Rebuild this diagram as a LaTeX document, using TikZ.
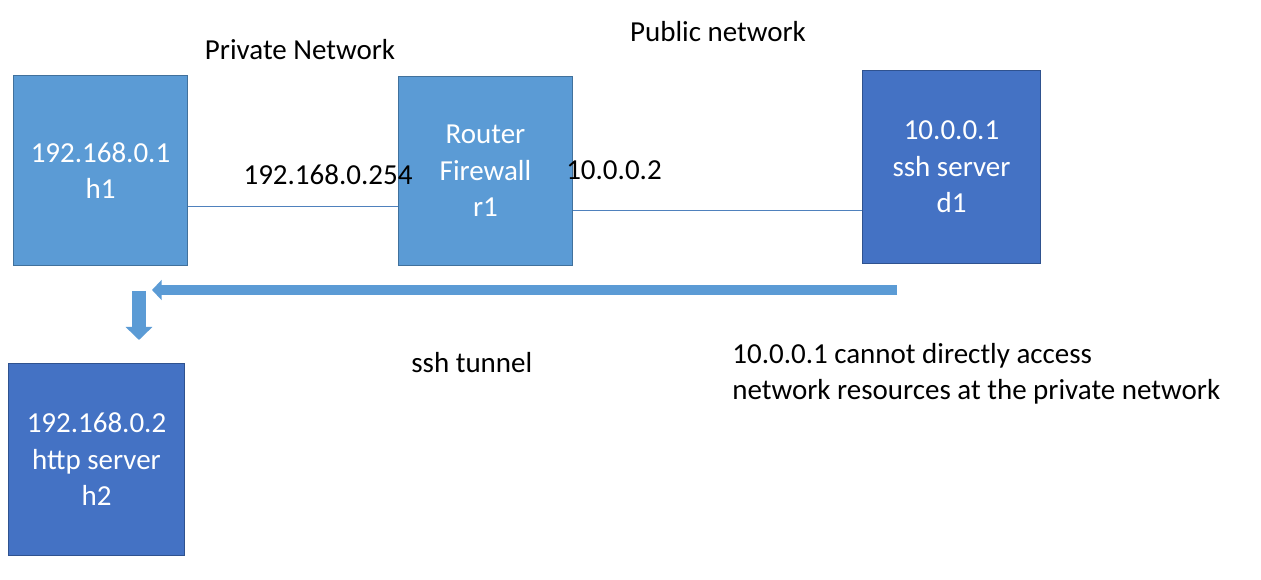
\documentclass[tikz,border=0pt]{standalone}
\usepackage{fontspec}
\setmainfont{Carlito}
\usepackage{tikz}
\usetikzlibrary{arrows.meta,calc,positioning}
\definecolor{boxlight}{HTML}{5B9BD5}
\definecolor{boxline}{HTML}{41719C}
\definecolor{srvdark}{HTML}{4472C4}
\definecolor{srvline}{HTML}{2F528F}
\definecolor{linkblue}{HTML}{4F81BD}
\newcommand{\netfont}{\fontsize{16.5}{20.8}\selectfont}
\tikzset{hostbox/.style={draw=boxline,line width=0.2mm,fill=boxlight,text=white,align=center,
    minimum width=35mm,minimum height=38mm,inner sep=0pt,font=\netfont},
  srvbox/.style={hostbox,draw=srvline,fill=srvdark},
  lbl/.style={font=\netfont,inner sep=0pt,anchor=base},
  link/.style={draw=linkblue,line width=0.2mm},
  tunnel/.style={draw=boxlight,line width=2.1mm,-{Triangle[length=1.9mm,width=3.9mm]}},
  drop/.style={draw=boxlight,line width=2.8mm,-{Triangle[length=2.6mm,width=5.2mm]}}}
\begin{document}
\begin{tikzpicture}[x=0.02cm,y=-0.02cm]
\useasboundingbox (0,0) rectangle (1261,580);
\node[hostbox] (h1) at (100.5,170.5) {192.168.0.1\\h1};
\node[hostbox] (r1) at (485.5,171) {Router\\Firewall\\r1};
\node[srvbox,minimum width=35.8mm,minimum height=38.8mm] (d1) at (951.5,167) {10.0.0.1\\ssh server\\d1};
\node[srvbox,minimum width=35.4mm,minimum height=38.6mm] (h2) at (96.5,459.5) {192.168.0.2\\http server\\h2};
\node[lbl] (privnet) at (300,60) {Private Network};
\node[lbl] (pubnet) at (718,42) {Public network};
\node[lbl] (ipin) at (328,185) {192.168.0.254};
\node[lbl] (ipout) at (614,180) {10.0.0.2};
\node[lbl,anchor=base west] (tunlbl) at (411,373) {ssh tunnel};
\node[lbl,anchor=base west,align=left] (note) at (732,400) {10.0.0.1 cannot directly access\\network resources at the private network};
\coordinate (lk1) at (0,207); \coordinate (lk2) at (0,210.5);
\draw[link] (h1.east |- lk1) -- (r1.west |- lk1);
\draw[link] (r1.east |- lk2) -- (d1.west |- lk2);
\coordinate (tunS) at (897,290); \coordinate (tunE) at (152,290);
\coordinate (dnS) at (139,291); \coordinate (dnE) at (139,340);
\draw[tunnel] (tunS) -- (tunE);
\draw[drop] (dnS) -- (dnE);
\end{tikzpicture}
\end{document}
